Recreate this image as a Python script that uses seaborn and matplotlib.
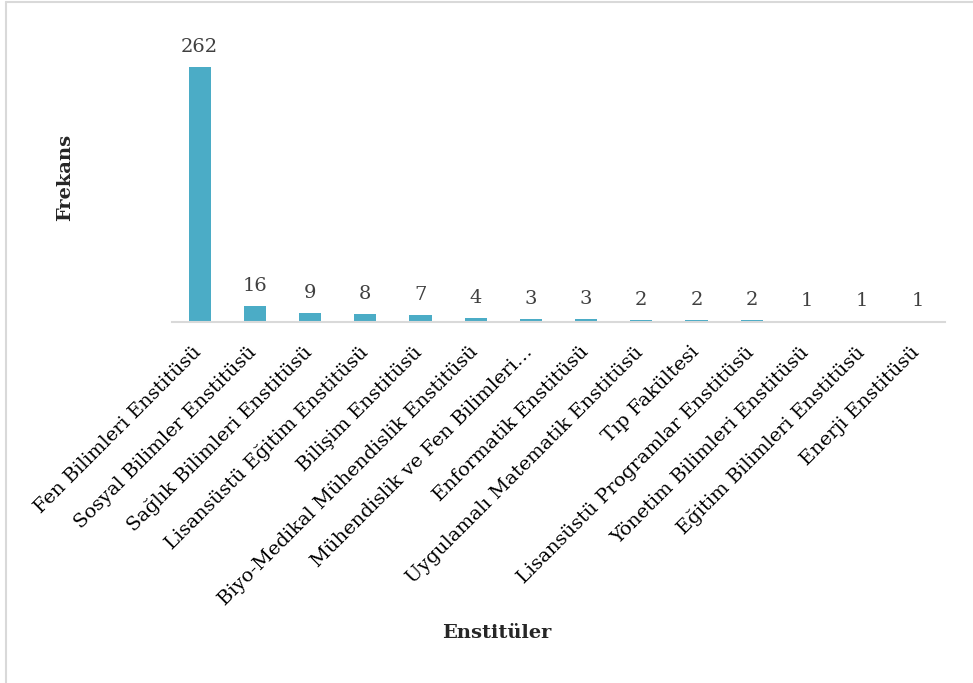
import matplotlib
matplotlib.use("Agg")
import matplotlib.pyplot as plt
import matplotlib.transforms as mtransforms
import seaborn as sns
import pandas as pd

categories = [
    "Fen Bilimleri Enstitüsü",
    "Sosyal Bilimler Enstitüsü",
    "Sağlık Bilimleri Enstitüsü",
    "Lisansüstü Eğitim Enstitüsü",
    "Bilişim Enstitüsü",
    "Biyo-Medikal Mühendislik Enstitüsü",
    "Mühendislik ve Fen Bilimleri…",
    "Enformatik Enstitüsü",
    "Uygulamalı Matematik Enstitüsü",
    "Tıp Fakültesi",
    "Lisansüstü Programlar Enstitüsü",
    "Yönetim Bilimleri Enstitüsü",
    "Eğitim Bilimleri Enstitüsü",
    "Enerji Enstitüsü",
]
values = [262, 16, 9, 8, 7, 4, 3, 3, 2, 2, 2, 1, 1, 1]
x_title = "Enstitüler"
y_title = "Frekans"

sns.set_theme(style="white")
plt.rcParams['font.family'] = ['DejaVu Serif', 'Liberation Serif']

df = pd.DataFrame({"cat": categories, "val": values})

fig = plt.figure(figsize=(9.73, 6.83), dpi=100)
W, H = 973, 683
ax = fig.add_axes([172 / W, 1 - 322 / H, (945 - 172) / W, (322 - 20) / H])

sns.barplot(data=df, x="cat", y="val", color="#4BACC6", saturation=1,
            width=0.4, ax=ax, edgecolor="none")
ax.set_xlim(-0.5, len(categories) - 0.5)
ax.set_ylim(0, 262 * (322 - 20) / (322 - 67))

for s in ["top", "right", "left"]:
    ax.spines[s].set_visible(False)
ax.spines["bottom"].set_color("#D9D9D9")
ax.spines["bottom"].set_linewidth(1.5)
ax.set_yticks([])
ax.tick_params(axis="x", length=0, pad=0)

lbl_off = mtransforms.ScaledTranslation(0, 11 / 100, fig.dpi_scale_trans)
for i, v in enumerate(values):
    ax.text(i, v, f"{v}", ha="center", va="bottom", fontsize=14,
            color="#404040", transform=ax.transData + lbl_off)

ax.set_xticks(range(len(categories)))
ax.set_xticklabels(categories, rotation=45, ha="right", rotation_mode="anchor",
                   fontsize=14, color="#000000")
offset = mtransforms.ScaledTranslation(-7 / 100, -21 / 100, fig.dpi_scale_trans)
for lab in ax.get_xticklabels():
    lab.set_transform(lab.get_transform() + offset)

ax.set_xlabel("")
ax.set_ylabel("")
fig.text(497 / W, 1 - 633 / H, x_title, ha="center", va="center",
         fontsize=14, fontweight="bold")
fig.text(65 / W, 1 - 177 / H, y_title, ha="center", va="center",
         fontsize=14, fontweight="bold", rotation=90)

# chart area border (left / top visible in reference)
fig.add_artist(plt.Line2D([6 / W, 6 / W], [0, 1 - 2 / H], color="#D9D9D9",
                          lw=1.5, transform=fig.transFigure))
fig.add_artist(plt.Line2D([6 / W, 1], [1 - 2 / H, 1 - 2 / H], color="#D9D9D9",
                          lw=1.5, transform=fig.transFigure))

fig.savefig("out.png", dpi=100)
